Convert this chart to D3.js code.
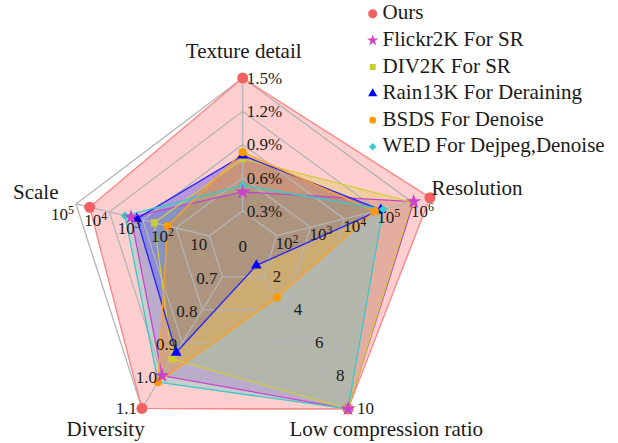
<!DOCTYPE html>
<html><head><meta charset="utf-8">
<script src="https://cdn.jsdelivr.net/npm/d3@7"></script>
<style>
body{margin:0;background:#fff}
svg{display:block}
svg text{font-family:'Liberation Serif','Times New Roman',Times,'DejaVu Serif',serif;fill:#1a1a1a}
</style>
</head><body>
<svg id="chart" width="618" height="443" font-family="'Liberation Serif','Times New Roman',Times,'DejaVu Serif',serif"></svg>
<script>
// Axis names, clockwise from the top
const axes = ["Texture detail", "Resolution", "Low compression ratio", "Diversity", "Scale"];
const seriesNames = ["Ours", "Flickr2K For SR", "DIV2K For SR", "Rain13K For Deraining", "BSDS For Denoise", "WED For Dejpeg,Denoise"];

// Values per axis: texture (%), resolution (pixels), low compression ratio, diversity, scale (images)
const ours     = [1.5,  3.4e6,  10,   1.10, 39000];
const flickr2k = [0.47, 1.12e6, 10,   1.00, 2240];
const div2k    = [0.77, 1.0e6,  10,   0.95, 450];
const rain13k  = [0.80, 1.2e5,  1.3,  0.93, 1500];
const bsds     = [0.83, 8.0e4,  3.25, 1.02, 180];
const wed      = [0.53, 1.4e5,  10,   1.02, 3400];

// Tick labels along each axis (ring 1..5; texture also has the centre label)
const textureTicks     = ["0", "0.3%", "0.6%", "0.9%", "1.2%", "1.5%"];
const resolutionTicks  = [2, 3, 4, 5, 6];      // powers of ten
const compressionTicks = ["2", "4", "6", "8", "10"];
const diversityTicks   = ["0.7", "0.8", "0.9", "1.0", "1.1"];
const scaleTicks       = [1, 2, 3, 4, 5];      // powers of ten

const data = [ours, flickr2k, div2k, rain13k, bsds, wed];
const colors = ["#f26262", "#c944c9", "#cccc33", "#0000ff", "#ff9900", "#33cccc"];
const lineColors = ["#ff8484", "#c944c9", "#d2cc3c", "#2222ff", "#ffa020", "#3cc8c8"];
const fillColors = ["rgb(255,100,100)", "rgb(204,51,204)", "rgb(204,204,51)", "rgb(0,0,255)", "rgb(255,153,0)", "rgb(51,204,204)"];
const fillOpacity = [0.31, 0.3, 0.3, 0.28, 0.33, 0.28];

// value -> ring level (0..5) for each axis
const valueScales = [
  d3.scaleLinear().domain([0, 1.5]).range([0, 5]),
  d3.scaleLog().domain([10, 1e6]).range([0, 5]),
  d3.scaleLinear().domain([0, 10]).range([0, 5]),
  d3.scaleLinear().domain([0.6, 1.1]).range([0, 5]),
  d3.scaleLog().domain([1, 1e5]).range([0, 5])
];

// spoke geometry
const cx = 242.7, cy = 244;
const spokeAngle = [0, 76.1, 147.45, 211.5, 283.5];   // degrees clockwise from up
const spokeLen = [166, 174.4, 195.7, 192.9, 171.4];
const rad = a => a * Math.PI / 180;
const px = spokeAngle.map((a, i) => d3.scaleLinear().domain([0, 5]).range([cx, cx + spokeLen[i] * Math.sin(rad(a))]));
const py = spokeAngle.map((a, i) => d3.scaleLinear().domain([0, 5]).range([cy, cy - spokeLen[i] * Math.cos(rad(a))]));
const pt = (i, level) => [px[i](level), py[i](level)];

const svg = d3.select("#chart");
const line = d3.line().curve(d3.curveLinearClosed);

const seriesPoints = data.map(vals => vals.map((v, i) => pt(i, valueScales[i](v))));

// filled areas
const fillOrder = [0, 1, 2, 3, 5, 4];
svg.append("g").selectAll("path").data(fillOrder).join("path")
  .attr("d", s => line(seriesPoints[s]))
  .attr("fill", s => fillColors[s])
  .attr("fill-opacity", s => fillOpacity[s])
  .attr("stroke", "none");

// grid rings and spokes
const grid = svg.append("g").attr("fill", "none").attr("stroke", "#b4b4b4").attr("stroke-width", 1.3);
grid.selectAll("path.ring").data([1, 2, 3, 4, 5]).join("path")
  .attr("class", "ring")
  .attr("d", k => line(axes.map((_, i) => pt(i, k))));
grid.selectAll("line").data(axes.map((_, i) => i)).join("line")
  .attr("x1", i => px[i](1)).attr("y1", i => py[i](1))
  .attr("x2", i => px[i](5)).attr("y2", i => py[i](5));

// series outlines
svg.append("g").selectAll("path").data(d3.range(data.length)).join("path")
  .attr("d", s => line(seriesPoints[s]))
  .attr("fill", "none")
  .attr("stroke", s => lineColors[s])
  .attr("stroke-width", 1.3)
  .attr("stroke-linejoin", "round");

// markers
const symbols = [
  {type: d3.symbolCircle, size: 95, rot: 0},
  {type: d3.symbolStar, size: 70, rot: 0},
  {type: d3.symbolSquare, size: 50, rot: 0},
  {type: d3.symbolTriangle, size: 50, rot: 0},
  {type: d3.symbolCircle, size: 52, rot: 0},
  {type: d3.symbolSquare, size: 36, rot: 45}
];
const markerOrder = [0, 2, 3, 5, 4, 1];
const mk = svg.append("g");
markerOrder.forEach(s => {
  mk.append("g").selectAll("path").data(seriesPoints[s]).join("path")
    .attr("transform", d => `translate(${d[0]},${d[1]}) rotate(${symbols[s].rot})`)
    .attr("d", d3.symbol().type(symbols[s].type).size(symbols[s].size))
    .attr("fill", colors[s]);
});

// tick labels
const tick = svg.append("g").attr("font-size", 17);
function powLabel(sel, exp) {
  sel.text("10");
  if (exp !== 1) sel.append("tspan").attr("dy", -6).attr("font-size", 12).text(exp);
}
// texture axis
textureTicks.forEach((t, k) => {
  const [x, y] = pt(0, k);
  tick.append("text")
    .attr("x", k === 0 ? x : x + 4).attr("y", k === 0 ? y + 2 : y)
    .attr("dy", "0.35em")
    .attr("text-anchor", k === 0 ? "middle" : "start")
    .text(t);
});
// resolution axis
resolutionTicks.forEach((e, k) => {
  const [x, y] = pt(1, k + 1);
  tick.append("text").attr("x", x - 1).attr("y", y + (k === 4 ? 8.5 : 7)).attr("dy", "0.35em")
    .attr("text-anchor", "start").call(powLabel, e);
});
// low compression ratio axis
compressionTicks.forEach((t, k) => {
  const [x, y] = pt(2, k + 1);
  tick.append("text").attr("x", x + 9).attr("y", y - 1).attr("dy", "0.35em")
    .attr("text-anchor", "start").text(t);
});
// diversity axis
diversityTicks.forEach((t, k) => {
  const [x, y] = pt(3, k + 1);
  tick.append("text").attr("x", x - 5).attr("y", y + (k === 4 ? 0 : 1)).attr("dy", "0.35em")
    .attr("text-anchor", "end").text(t);
});
// scale axis
scaleTicks.forEach((e, k) => {
  const [x, y] = pt(4, k + 1);
  tick.append("text").attr("x", x - 2).attr("y", y + (k === 4 ? 10 : 8.5)).attr("dy", "0.35em")
    .attr("text-anchor", "end").call(powLabel, e);
});

// axis titles
const titles = svg.append("g").attr("font-size", 21);
const titlePos = [
  {x: 243.7, y: 58, anchor: "middle"},
  {x: 431.5, y: 195, anchor: "start"},
  {x: 483, y: 436, anchor: "end"},
  {x: 66.5, y: 436, anchor: "start"},
  {x: 13, y: 199, anchor: "start"}
];
axes.forEach((a, i) => {
  titles.append("text").attr("x", titlePos[i].x).attr("y", titlePos[i].y)
    .attr("text-anchor", titlePos[i].anchor).text(a);
});

// legend
const legendSymbols = [
  {type: d3.symbolCircle, size: 64, rot: 0},
  {type: d3.symbolStar, size: 40, rot: 0},
  {type: d3.symbolSquare, size: 36, rot: 0},
  {type: d3.symbolTriangle, size: 36, rot: 0},
  {type: d3.symbolCircle, size: 36, rot: 0},
  {type: d3.symbolSquare, size: 28, rot: 45}
];
const legend = svg.append("g").attr("font-size", 21);
seriesNames.forEach((n, s) => {
  const y = 19.3 + s * 26.6;
  legend.append("path")
    .attr("transform", `translate(372.7,${y - 5.5}) rotate(${legendSymbols[s].rot})`)
    .attr("d", d3.symbol().type(legendSymbols[s].type).size(legendSymbols[s].size))
    .attr("fill", colors[s]);
  legend.append("text").attr("x", 382.5).attr("y", y).text(n);
});
</script>
</body></html>
